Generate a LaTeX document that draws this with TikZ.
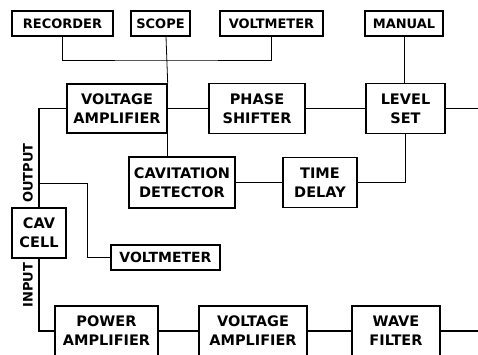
\documentclass[tikz,border=0pt]{standalone}
\usepackage{fontspec}
\setmainfont{DejaVu Sans}

\begin{document}
\begin{tikzpicture}[x=1pt, y=-1pt,
    box/.style={draw, line width=1.4pt, inner sep=0pt, align=center,
      font=\bfseries\fontsize{14.5}{19}\selectfont},
    meter/.style={box, minimum height=25pt,
      font=\bfseries\fontsize{13}{18}\selectfont},
    lbl/.style={inner sep=0pt, font=\bfseries\fontsize{13}{18}\selectfont},
    wire/.style={line width=1.4pt},
    tap/.style={line width=0.8pt}]
  \clip (0,0) rectangle (478,354);
  % meters along the top
  \node[meter, minimum width=101pt] (rec) at (62.5,23.5) {RECORDER};
  \node[meter, minimum width=59pt] (scope) at (160.5,23.5) {SCOPE};
  \node[meter, minimum width=103pt] (vmtop) at (271.5,23.5) {VOLTMETER};
  \node[meter, minimum width=78pt] (man) at (404,23.5) {MANUAL};
  % feedback chain
  \node[box, minimum width=100pt, minimum height=49pt] (vamp) at (117,108.5) {VOLTAGE\\AMPLIFIER};
  \node[box, minimum width=96pt, minimum height=50pt] (phs) at (257,108.5) {PHASE\\SHIFTER};
  \node[box, minimum width=79pt, minimum height=50pt] (lvl) at (405.5,108.5) {LEVEL\\SET};
  \node[box, minimum width=106pt, minimum height=51pt] (cavdet) at (182,182.5) {CAVITATION\\DETECTOR};
  \node[box, minimum width=74pt, minimum height=50pt] (tdel) at (320,182.5) {TIME\\DELAY};
  \node[box, minimum width=54pt, minimum height=50pt] (cell) at (39,233) {CAV\\CELL};
  \node[meter, minimum width=109pt, font=\bfseries\fontsize{14}{18}\selectfont] (vmlow) at (165.5,257.5) {VOLTMETER};
  % drive chain
  \node[box, minimum width=103pt, minimum height=50pt] (pamp) at (106.5,331) {POWER\\AMPLIFIER};
  \node[box, minimum width=108pt, minimum height=50pt] (vamp2) at (253,331) {VOLTAGE\\AMPLIFIER};
  \node[box, minimum width=88pt, minimum height=50pt] (wfil) at (396,331) {WAVE\\FILTER};
  \node[lbl, rotate=90] (outlbl) at (28,173) {OUTPUT};
  \node[lbl, rotate=90] (inlbl) at (28,285) {INPUT};
  \coordinate (bus) at (166,60);
  \coordinate (endA) at (478,108.5);
  \coordinate (endB) at (478,331);
  \coordinate (split) at (39,183);
  % connections
  \draw[tap] (rec.south) |- (bus) -| (vmtop.south);
  \draw[tap] (scope.south -| bus) -- (vamp.north east);
  \draw[tap] (man.south) -- (man.south |- lvl.north);
  \draw[tap] (vamp.south east) -- (vamp.south east |- cavdet.north);
  \draw[wire] (vamp.east) -- (phs.west);
  \draw[wire] (phs.east) -- (lvl.west);
  \draw[wire] (lvl.east) -- (endA);
  \draw[wire] (cavdet.east) -- (tdel.west);
  \draw[wire] (tdel.east) -| (lvl.south);
  \draw[wire] (vamp.west) -| (cell.north);
  \draw[tap] (split) -- ++(48,0) |- (vmlow.west);
  \draw[wire] (cell.south) |- (pamp.west);
  \draw[wire] (pamp.east) -- (vamp2.west);
  \draw[wire] (vamp2.east) -- (wfil.west);
  \draw[wire] (wfil.east) -- (endB);
\end{tikzpicture}
\end{document}
